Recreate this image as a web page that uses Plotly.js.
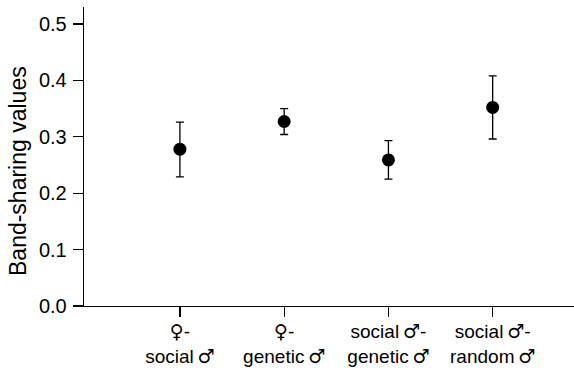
<!DOCTYPE html>
<html><head><meta charset="utf-8">
<script src="https://cdn.plot.ly/plotly-3.0.1.min.js"></script>
<style>body{margin:0;background:#fff}#chart{width:574px;height:380px}</style>
</head><body><div id="chart"></div>
<script>
const categories = [1, 2, 3, 4];
const F = '<span style="font-family:DejaVu Sans">♀\uFE0E</span>';
const M = '\u2009<span style="font-family:DejaVu Sans">♂\uFE0E</span>';
const tickLabels = [F + "-<br>social" + M, F + "-<br>genetic" + M, "social" + M + "-<br>genetic" + M, "social" + M + "-<br>random" + M];
const yTitle = 'Band-sharing values';
const means = [0.278, 0.327, 0.259, 0.352];
const errUpper = [0.326, 0.350, 0.293, 0.408];
const errLower = [0.229, 0.304, 0.225, 0.296];

const plus = means.map((m, i) => errUpper[i] - m);
const minus = means.map((m, i) => m - errLower[i]);

const trace = {
  x: categories, y: means, type: 'scatter', mode: 'markers',
  marker: {color: '#000', size: 13},
  error_y: {type: 'data', symmetric: false, array: plus, arrayminus: minus,
            color: '#000', thickness: 1.3, width: 4},
  showlegend: false
};
const fam = 'Liberation Sans, Arial, sans-serif';
const yfont = {family: fam, size: 20, color: '#000'};
const xfont = {family: fam, size: 19, color: '#000'};
const tfont = {family: fam, size: 23, color: '#000'};
const layout = {
  width: 574, height: 380,
  margin: {l: 84, r: 0, t: 7, b: 74},
  paper_bgcolor: '#fff', plot_bgcolor: '#fff',
  font: yfont,
  xaxis: {range: [0.08, 4.78], tickvals: categories, ticktext: tickLabels,
          showgrid: false, zeroline: false, showline: true, linecolor: '#000', linewidth: 1.3,
          ticks: 'outside', ticklen: 10, tickwidth: 1.3, tickcolor: '#000', tickfont: xfont,
          ticklabelstandoff: -2},
  yaxis: {range: [0, 0.53], tickvals: [0, 0.1, 0.2, 0.3, 0.4, 0.5], tickformat: '.1f',
          showgrid: false, zeroline: false, showline: true, linecolor: '#000', linewidth: 1.3,
          ticks: 'outside', ticklen: 10, tickwidth: 1.3, tickcolor: '#000', tickfont: yfont,
          ticklabelstandoff: 2},
  annotations: [{text: yTitle, xref: 'paper', yref: 'paper', x: 0, y: 0.4515,
                 xshift: -66, textangle: -90, showarrow: false, font: tfont,
                 xanchor: 'center', yanchor: 'middle'}]
};
Plotly.newPlot('chart', [trace], layout, {displayModeBar: false, staticPlot: true});
</script></body></html>
